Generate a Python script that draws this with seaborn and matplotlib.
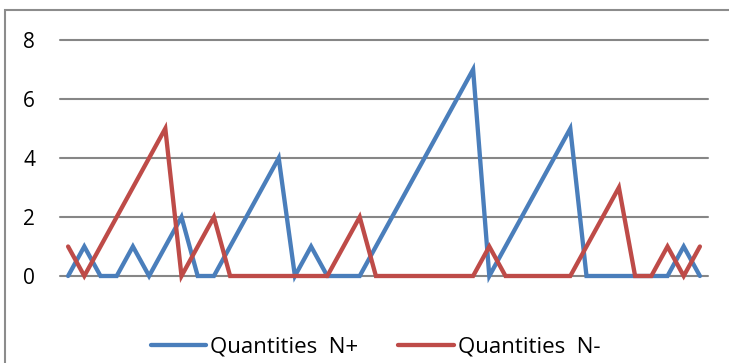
import pandas as pd
import matplotlib.pyplot as plt
import seaborn as sns
from matplotlib.patches import Rectangle

# Data (40 points)
qty_pos = [0, 1, 0, 0, 1, 0, 1, 2, 0, 0, 1, 2, 3, 4, 0, 1, 0, 0, 0, 1,
           2, 3, 4, 5, 6, 7, 0, 1, 2, 3, 4, 5, 0, 0, 0, 0, 0, 0, 1, 0]
qty_neg = [1, 0, 1, 2, 3, 4, 5, 0, 1, 2, 0, 0, 0, 0, 0, 0, 0, 1, 2, 0,
           0, 0, 0, 0, 0, 0, 1, 0, 0, 0, 0, 0, 1, 2, 3, 0, 0, 1, 0, 1]
series_names = ["Quantities  N+", "Quantities  N-"]
colors = ["#4A7EBB", "#BE4B48"]
y_ticks = [0, 2, 4, 6, 8]

df = pd.DataFrame({
    "idx": list(range(len(qty_pos))) * 2,
    "value": qty_pos + qty_neg,
    "series": [series_names[0]] * len(qty_pos) + [series_names[1]] * len(qty_neg),
})

sns.set_style("white")
plt.rcParams["font.family"] = ["Open Sans", "DejaVu Sans"]

fig = plt.figure(figsize=(7.29, 3.63), dpi=100)
ax = fig.add_axes([60 / 729, 87 / 363, 648 / 729, 236 / 363])

sns.lineplot(data=df, x="idx", y="value", hue="series", palette=colors,
             linewidth=3.1, ax=ax, legend=False, clip_on=False)
for line in ax.lines:
    line.set_solid_joinstyle("miter")

ax.set_xlim(-0.5, len(qty_pos) - 0.5)
ax.set_ylim(0, 8)
ax.set_yticks(y_ticks)
ax.set_yticklabels([str(t) for t in y_ticks], fontsize=15, color="black")
ax.set_xticks([])
ax.tick_params(axis="y", length=0, pad=18)
ax.yaxis.grid(True, color="#868686", linewidth=1.5)
for g in ax.yaxis.get_gridlines():
    g.set_clip_on(False)
ax.set_axisbelow(True)
ax.set_xlabel("")
ax.set_ylabel("")
for s in ax.spines.values():
    s.set_visible(False)

# Chart frame
fig.patches.append(Rectangle((5 / 729, -0.2), 1.2, 1.2 - 10 / 363,
                             transform=fig.transFigure, fill=False,
                             edgecolor="#8C8C8C", linewidth=1.5))

handles = [plt.Line2D([], [], color=c, linewidth=3.1) for c in colors]
fig.legend(handles, series_names, loc="center", bbox_to_anchor=(0.515, 0.044),
           ncol=2, frameon=False, fontsize=16, handlelength=2.5,
           handletextpad=0.18, columnspacing=1.8, labelcolor="black")

fig.savefig("out.png", dpi=100)
